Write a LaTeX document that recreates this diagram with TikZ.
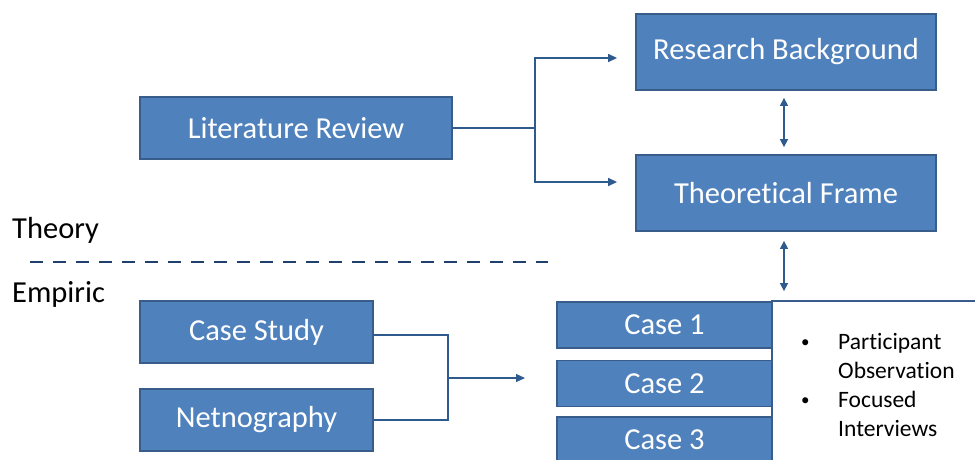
\documentclass[tikz,border=0pt]{standalone}
\usepackage{fontspec}
\setmainfont[Ligatures=NoCommon]{Carlito}
\usetikzlibrary{arrows.meta}
\definecolor{boxfill}{HTML}{4F81BD}
\definecolor{boxline}{HTML}{385D8A}
\definecolor{conn}{HTML}{2F5A8E}
\definecolor{dash}{HTML}{1F3F6D}
\tikzset{
  bluebox/.style={draw=boxline, line width=1.8pt, fill=boxfill, text=white, inner sep=0pt,
    font=\fontsize{30.5}{34}\selectfont},
  conline/.style={draw=conn, line width=1.3pt},
  arr/.style={conline, -{Triangle[length=9pt,width=8pt]}},
  darr/.style={conline, {Triangle[length=8pt,width=8pt]}-{Triangle[length=8pt,width=8pt]}},
  lbl/.style={anchor=west, inner sep=0pt, font=\fontsize{30.5}{34}\selectfont},
}
\begin{document}
\begin{tikzpicture}[x=1pt,y=-1pt]
\useasboundingbox[fill=white] (0,0) rectangle (975,459);
% top boxes
\node[bluebox, minimum width=312pt, minimum height=62pt] (lit) at (296,128) {Literature Review};
\node[bluebox, minimum width=300pt, minimum height=76pt] (rb) at (786,52) {Research Background};
\node[bluebox, minimum width=300pt, minimum height=76pt] (tf) at (786,193) {Theoretical Frame};
% labels
\node[lbl] (theory) at (12,230) {Theory};
\node[lbl] (empiric) at (12,294) {Empiric};
\coordinate (d1) at (30,262);
\coordinate (d2) at (548,262);
\draw[draw=dash, line width=2.8pt, dash pattern=on 13pt off 10pt] (d1) -- (d2);
% bottom left
\node[bluebox, minimum width=233pt, minimum height=62pt] (cs) at (256.5,332) {Case Study};
\node[bluebox, minimum width=233pt, minimum height=62pt] (net) at (256.5,420) {Netnography};
% white box
\draw[draw=boxline, line width=1.8pt, fill=white] (772,470) -- (772,301) -- (985,301);
\node[inner sep=0pt, minimum width=203pt, minimum height=158pt, anchor=north west] (info) at (772,301) {};
% cases
\node[bluebox, minimum width=215pt, minimum height=46pt] (c1) at (664.5,325) {Case 1};
\node[bluebox, minimum width=215pt, minimum height=46pt] (c2) at (664.5,383.5) {Case 2};
\node[bluebox, minimum width=215pt, minimum height=46pt, anchor=north] (c3) at (664.5,416) {Case 3};
% bullets
\begin{scope}[every node/.style={anchor=base west, inner sep=0pt, font=\fontsize{23.5}{28}\selectfont}]
\node[font=\fontsize{17}{20}\selectfont] (b1) at (801,347) {•};
\node (t1) at (838,349) {Participant};
\node (t2) at (838,378) {Observation};
\node[font=\fontsize{17}{20}\selectfont] (b2) at (801,405) {•};
\node (t3) at (838,407) {Focused};
\node (t4) at (838,436) {Interviews};
\end{scope}
% connectors
\coordinate (j1) at (535,128);
\draw[conline] (lit.east) -- (j1);
\draw[arr] (j1) |- ([xshift=-18pt]rb.west |- 0,58);
\draw[arr] (j1) |- ([xshift=-18pt]tf.west |- 0,182);
\draw[darr] ([xshift=-2pt,yshift=-7pt]rb.south) -- ([xshift=-2pt,yshift=7pt]tf.north);
\draw[darr] ([xshift=-2pt,yshift=-9pt]tf.south) -- ([xshift=-2pt,yshift=10pt]c1.north -| tf.south);
\coordinate (j2) at (448,378);
\coordinate (j2a) at (448,335);
\coordinate (j2b) at (448,420);
\draw[conline] (cs.east |- j2a) -- (j2a) -- (j2b) -- (net.east |- j2b);
\draw[arr] (j2) -- (525,378);
\end{tikzpicture}
\end{document}
